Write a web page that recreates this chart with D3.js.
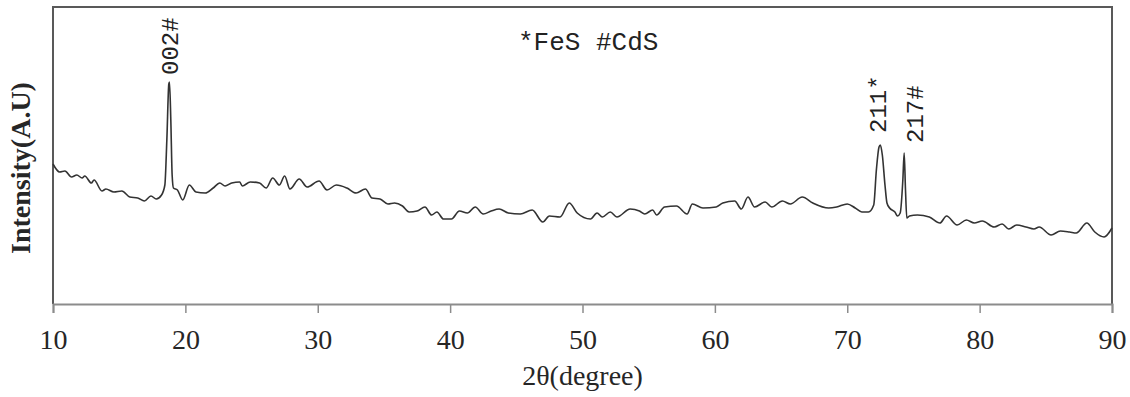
<!DOCTYPE html>
<html>
<head>
<meta charset="utf-8">
<script src="https://cdn.jsdelivr.net/npm/d3@7"></script>
<style>
  body { margin: 0; background: #fff; }
  svg { display: block; }
</style>
</head>
<body>
<script>
    "use strict";

    // 2-theta positions (degree) and intensity (arbitrary units)
    var twoTheta = [
        10.0, 10.5, 10.9, 11.4, 11.8, 12.2, 12.4, 12.9, 13.1, 13.7, 14.0, 14.6, 15.2, 15.8, 16.4, 16.9,
        17.4, 17.8, 18.2, 18.45, 18.6, 18.75, 18.8, 18.9, 19.0, 19.1, 19.4, 19.8, 20.3, 20.8, 21.5, 22.1,
        22.6, 23.0, 23.5, 24.1, 24.3, 24.9, 25.6, 26.1, 26.6, 27.1, 27.5, 27.9, 28.6, 29.2, 30.1, 30.7,
        31.4, 32.2, 32.9, 33.6, 34.1, 34.7, 35.3, 35.8, 36.4, 36.9, 37.5, 38.1, 38.6, 39.0, 39.5, 40.1,
        40.7, 41.3, 41.9, 42.5, 43.1, 43.7, 44.4, 45.3, 46.2, 47.0, 47.5, 48.3, 49.0, 49.6, 50.6, 51.1,
        51.5, 52.1, 52.6, 53.6, 54.3, 54.7, 55.3, 55.6, 56.2, 57.1, 57.9, 58.3, 59.1, 60.1, 60.6, 61.5,
        62.0, 62.5, 63.0, 63.8, 64.3, 65.1, 65.7, 66.6, 67.4, 68.6, 69.2, 70.0, 70.6, 71.1, 71.6, 72.0,
        72.2, 72.4, 72.5, 72.65, 72.85, 73.0, 73.2, 73.6, 73.8, 74.0, 74.2, 74.3, 74.4, 74.5, 74.7, 75.3,
        76.2, 77.0, 77.5, 78.3, 79.0, 79.6, 80.2, 81.1, 81.7, 82.2, 82.8, 83.5, 84.1, 84.5, 85.4, 86.1,
        86.8, 87.3, 88.1, 88.7, 89.4, 90.0
    ];
    var intensity = [
        140, 132, 133, 127, 129, 126, 128, 121, 124, 113, 115, 112, 113, 107, 106, 103,
        108, 105, 109, 119, 164, 220, 222, 184, 129, 116, 114, 104, 119, 112, 111, 116,
        121, 118, 121, 122, 118, 122, 121, 116, 126, 119, 128, 115, 125, 117, 123, 114,
        119, 116, 111, 115, 106, 105, 100, 101, 98, 92, 93, 97, 89, 92, 85, 85,
        93, 91, 97, 90, 93, 95, 91, 90, 94, 82, 88, 87, 101, 91, 85, 91,
        87, 92, 87, 95, 93, 90, 94, 89, 97, 98, 90, 100, 96, 97, 101, 103,
        95, 107, 97, 102, 97, 103, 100, 107, 101, 96, 97, 100, 96, 92, 92, 99,
        134, 157, 159, 149, 119, 101, 96, 92, 88, 91, 124, 151, 114, 86, 88, 89,
        87, 81, 88, 79, 84, 81, 83, 77, 80, 75, 79, 77, 75, 77, 69, 73,
        72, 71, 81, 72, 67, 76
    ];

    var xTicks = [10, 20, 30, 40, 50, 60, 70, 80, 90];

    // peak labels: hkl + phase mark, placed just above each peak
    var peakLabels = ["002#", "211*", "217#"];
    var labelPos = [18.8, 72.3, 75.1];
    var labelBase = [229, 171, 161];

    var legendText = "*FeS #CdS";

    var width = 1130,
        height = 397;
    var margin = { left: 53, right: 18, top: 7, bottom: 93 };

    var xScale = d3.scaleLinear()
                   .domain([10, 90])
                   .range([margin.left, width - margin.right]);

    var yScale = d3.scaleLinear()
                   .domain([0, 297])
                   .range([height - margin.bottom, margin.top]);

    var svg = d3.select("body").append("svg")
        .attr("width", width)
        .attr("height", height);

    // frame (left, top, right)
    svg.append("path")
        .attr("d", "M" + xScale(10) + "," + yScale(0) +
                   "V" + yScale(297) + "H" + xScale(90) + "V" + yScale(0))
        .attr("fill", "none")
        .attr("stroke", "#595959")
        .attr("stroke-width", 2);

    // x axis
    var xAxis = d3.axisBottom(xScale)
                  .tickValues(xTicks)
                  .tickSize(9)
                  .tickPadding(16)
                  .tickFormat(d3.format("d"));

    var gx = svg.append("g")
        .attr("transform", "translate(0," + yScale(0) + ")")
        .call(xAxis);
    gx.select(".domain").attr("stroke", "#8c8c8c").attr("stroke-width", 2);
    gx.selectAll(".tick line").attr("stroke", "#8c8c8c").attr("stroke-width", 1.5);
    gx.selectAll(".tick text")
        .attr("fill", "#262626")
        .style("font-family", "'Liberation Serif', 'Times New Roman', serif")
        .style("font-size", "28px");

    // pattern
    var data = twoTheta.map(function(t, i) {
        return { x: t, y: intensity[i] };
    });

    var line = d3.line()
                 .x(function(d) { return xScale(d.x); })
                 .y(function(d) { return yScale(d.y); })
                 .curve(d3.curveMonotoneX);

    svg.append("path")
        .datum(data)
        .attr("d", line)
        .attr("fill", "none")
        .attr("stroke", "#333")
        .attr("stroke-width", 1.6)
        .attr("stroke-linejoin", "round");

    // peak labels
    svg.selectAll(".peak")
        .data(peakLabels)
        .enter().append("text")
            .classed("peak", true)
            .attr("transform", function(d, i) {
                return "translate(" + xScale(labelPos[i]) + "," + yScale(labelBase[i]) + ") rotate(-90)";
            })
            .attr("dy", "0.35em")
            .attr("fill", "#222")
            .style("font-family", "'Liberation Mono', 'Courier New', monospace")
            .style("font-size", "24px")
            .text(function(d) { return d; });

    svg.append("text")
        .attr("x", 518)
        .attr("y", 50)
        .attr("fill", "#222")
        .style("font-family", "'Liberation Mono', 'Courier New', monospace")
        .style("font-size", "26px")
        .style("white-space", "pre")
        .text(legendText);

    // axis titles
    svg.append("text")
        .attr("x", (xScale(10) + xScale(90)) / 2)
        .attr("y", 385)
        .attr("text-anchor", "middle")
        .attr("fill", "#262626")
        .style("font-family", "'Liberation Serif', 'Times New Roman', serif")
        .style("font-size", "28px")
        .text("2θ(degree)");

    svg.append("text")
        .attr("transform", "translate(30,168) rotate(-90)")
        .attr("text-anchor", "middle")
        .attr("fill", "#262626")
        .style("font-family", "'Liberation Serif', 'Times New Roman', serif")
        .style("font-size", "28px")
        .style("font-weight", "bold")
        .text("Intensity(A.U)");
</script>
</body>
</html>
